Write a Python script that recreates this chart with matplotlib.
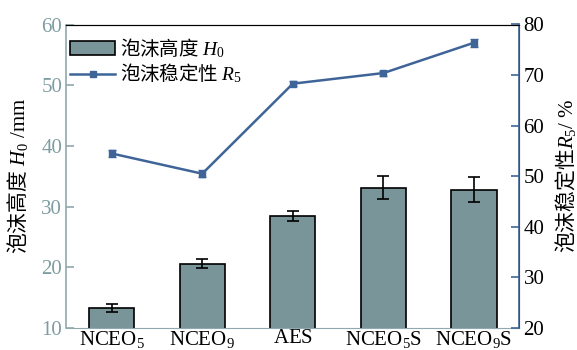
import matplotlib
matplotlib.use("Agg")
import matplotlib.pyplot as plt
import numpy as np

# Chinese text sits inside \mathrm (CJK font), Latin symbols in \mathsf / \mathit (serif)
plt.rcParams['font.family'] = ['Liberation Serif', 'Noto Sans CJK SC']
plt.rcParams['mathtext.fontset'] = 'custom'
plt.rcParams['mathtext.rm'] = 'Noto Sans CJK SC'
plt.rcParams['mathtext.it'] = 'Liberation Serif:italic'
plt.rcParams['mathtext.sf'] = 'Liberation Serif'

# samples
samples = ['$\\mathsf{NCEO}_{\\mathsf{5}}$', '$\\mathsf{NCEO}_{\\mathsf{9}}$', '$\\mathsf{AES}$',
           '$\\mathsf{NCEO}_{\\mathsf{5}}\\mathsf{S}$', '$\\mathsf{NCEO}_{\\mathsf{9}}\\mathsf{S}$']
# foam height H0 (mm) and error
height = [13.3, 20.6, 28.4, 33.1, 32.8]
height_err = [0.7, 0.8, 0.8, 1.9, 2.1]
# foam stability R5 (%) and error
stability = [54.5, 50.5, 68.3, 70.4, 76.4]
stability_err = [0.7, 0.7, 0.5, 0.5, 0.8]

bar_color = '#7a9599'
line_color = '#3f6598'
left_color = '#8fa9ae'
left_text = '#7e9ca1'

fig, ax1 = plt.subplots(figsize=(5.77, 3.5), dpi=100)
fig.subplots_adjust(left=0.115, right=0.9, top=0.93, bottom=0.063)

x = np.arange(len(samples))
bars = ax1.bar(x, height, width=0.5, color=bar_color, edgecolor='black', linewidth=1.2,
               yerr=height_err, capsize=4, error_kw=dict(elinewidth=1.2, capthick=1.2),
               label='$\\mathrm{泡沫高度}\\ \\mathit{H}_{\\mathsf{0}}$', zorder=2)
ax1.set_xlim(-0.5, 4.5)
ax1.set_ylim(10, 60)
ax1.set_yticks([10, 20, 30, 40, 50, 60])
ax1.set_xticks(x)
ax1.set_xticklabels(samples, fontsize=15)
ax1.tick_params(axis='x', length=0, pad=1)
ax1.tick_params(axis='y', direction='in', length=6, colors=left_color, labelcolor=left_text,
                labelsize=15, width=1.2, pad=3)
ax1.set_ylabel('$\\mathrm{泡沫高度}\\ \\mathit{H}_{\\mathsf{0}}\\mathsf{\\ /mm}$', fontsize=15,
               labelpad=8)

ax2 = ax1.twinx()
line, = ax2.plot(x, stability, color=line_color, marker='s', markersize=5, linewidth=1.8,
                 label='$\\mathrm{泡沫稳定性}\\ \\mathit{R}_{\\mathsf{5}}$', zorder=3)
ax2.errorbar(x, stability, yerr=stability_err, fmt='none', ecolor=line_color, capsize=3,
             elinewidth=1, zorder=3)
ax2.set_ylim(20, 80)
ax2.set_yticks([20, 30, 40, 50, 60, 70, 80])
ax2.tick_params(axis='y', direction='in', length=6, colors=line_color, labelcolor='black',
                labelsize=15, width=1.2, pad=3)
ax2.set_ylabel('$\\mathrm{泡沫稳定性}\\mathit{R}_{\\mathsf{5}}\\mathsf{/\\ \\%}$', fontsize=15,
               labelpad=6)

ax1.spines['left'].set_color(left_color)
ax1.spines['bottom'].set_color(left_color)
ax1.spines['left'].set_linewidth(1.2)
ax2.spines['left'].set_visible(False)
ax2.spines['bottom'].set_visible(False)
ax2.spines['right'].set_color(line_color)
ax2.spines['right'].set_linewidth(1.2)
ax2.spines['top'].set_color('black')
ax1.spines['top'].set_color('black')

ax1.legend([bars, line], [bars.get_label(), line.get_label()], loc='upper left',
           bbox_to_anchor=(0, 0.975), frameon=False, fontsize=14, handlelength=2.3,
           handletextpad=0.25, borderpad=0.1, borderaxespad=0.1, labelspacing=0.1)

fig.savefig('out.png', dpi=100)
